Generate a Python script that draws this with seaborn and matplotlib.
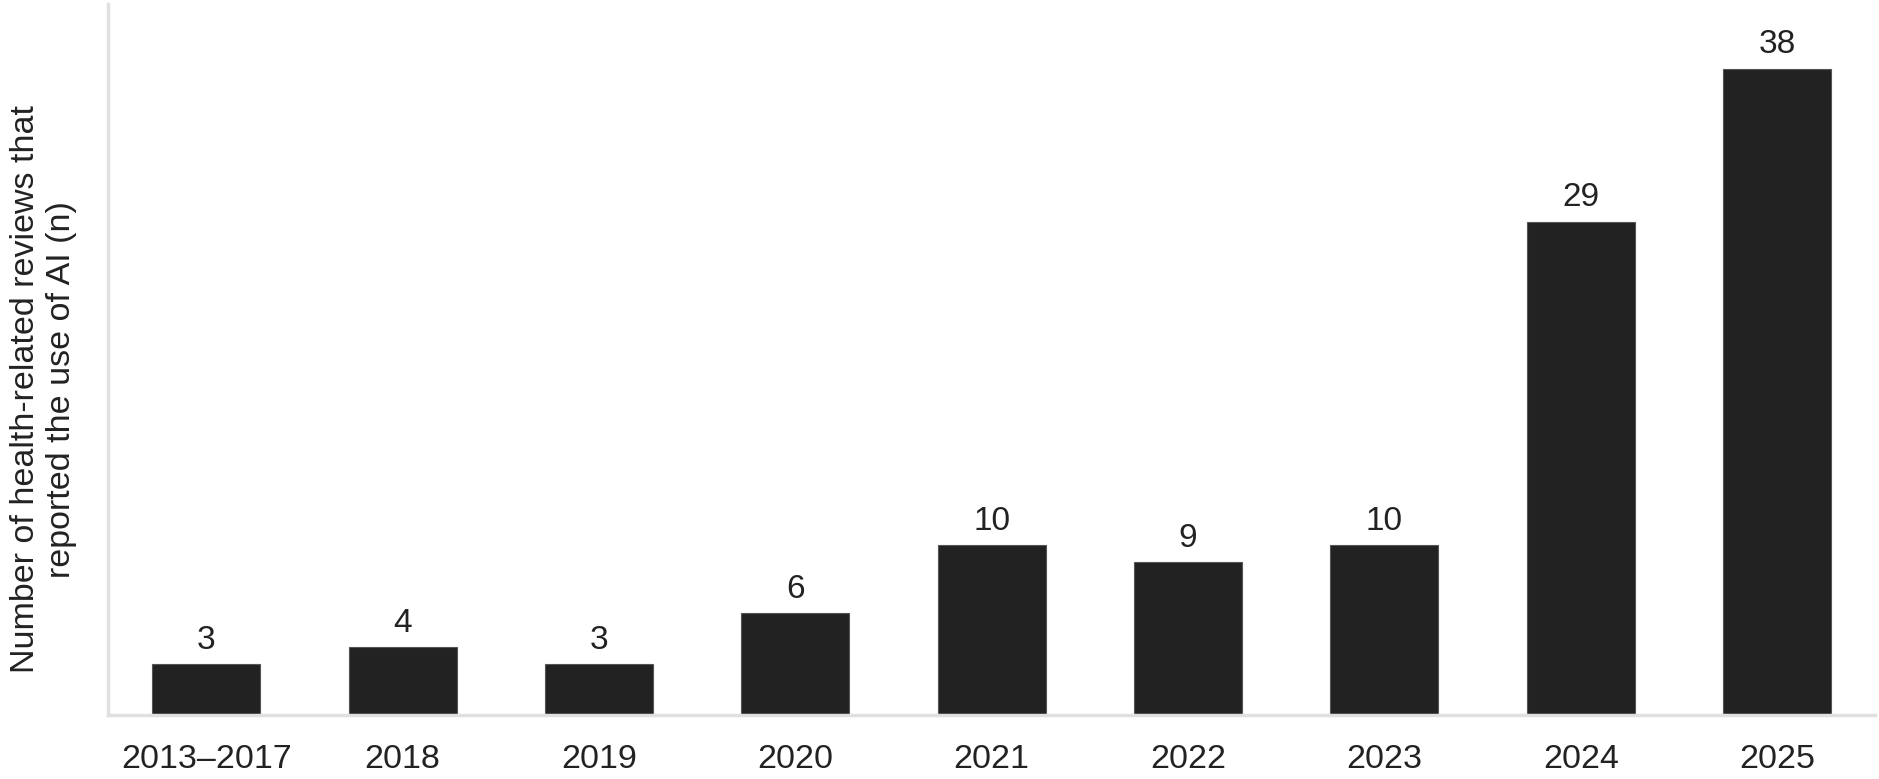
import pandas as pd
import numpy as np
import matplotlib.pyplot as plt
import seaborn as sns

# Données
years = ['2013–2017', '2018', '2019', '2020', '2021', '2022', '2023', '2024', '2025']
n_reviews = [3, 4, 3, 6, 10, 9, 10, 29, 38]

df = pd.DataFrame({'Year': years, 'n': n_reviews})

sns.set_style("white")
plt.rcParams['font.family'] = ['Liberation Sans', 'DejaVu Sans']
plt.rcParams['text.color'] = '#222222'
plt.rcParams['xtick.color'] = '#222222'
plt.rcParams['axes.labelcolor'] = '#222222'

fig = plt.figure(figsize=(18.79, 7.79), dpi=100)
ax = fig.add_axes([0.0575, 0.082, 0.9405, 0.913])

sns.barplot(data=df, x='Year', y='n', color='#222222', width=0.55,
            edgecolor='#555555', linewidth=0.8, saturation=1, ax=ax)

ax.bar_label(ax.containers[0], padding=6, fontsize=24)

ax.set_ylim(0, max(n_reviews) * 1.1)
ax.set_xlim(-0.5, len(years) - 0.5)
ax.set_yticks([])
ax.set_xlabel('')
ax.set_ylabel('Number of health-related reviews that\nreported the use of AI (n)',
              fontsize=24.5, linespacing=1.2)
# label un peu plus bas que le centre de l'axe
ax.yaxis.set_label_coords(-0.0175, 0.458)
ax.tick_params(axis='x', labelsize=24.5, length=0, pad=21)

for side in ['top', 'right']:
    ax.spines[side].set_visible(False)
for side in ['left', 'bottom']:
    ax.spines[side].set_color('#e0e0e0')
    ax.spines[side].set_linewidth(2.5)
ax.grid(False)

fig.savefig('out.png', dpi=100)
